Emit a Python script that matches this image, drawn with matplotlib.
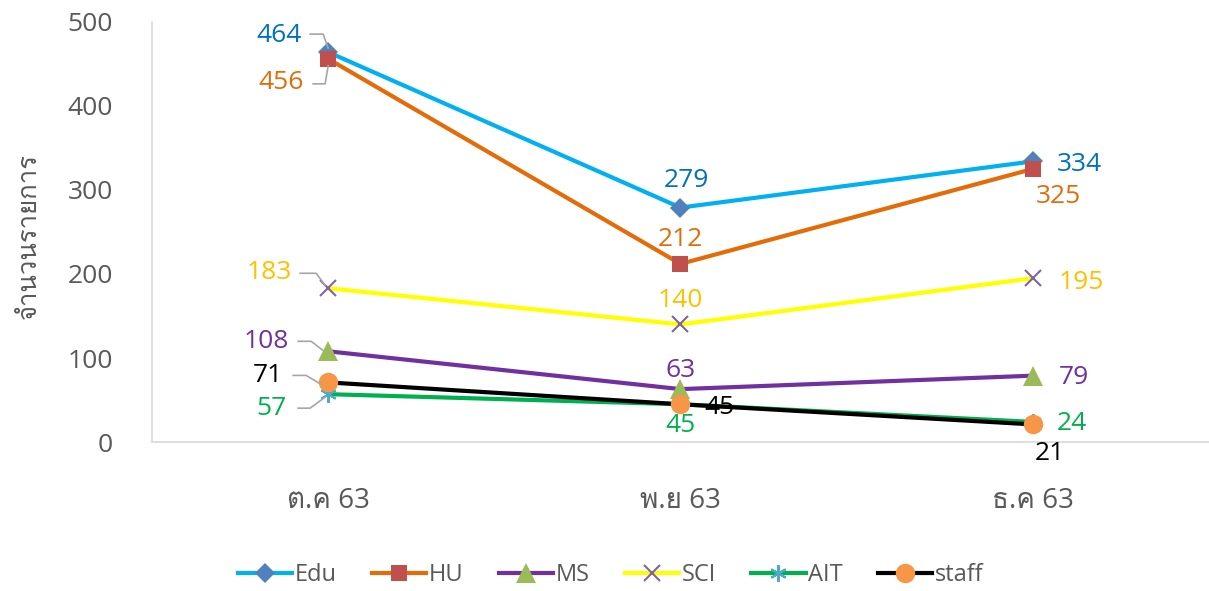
import matplotlib
matplotlib.use("Agg")
import matplotlib.pyplot as plt
from matplotlib import font_manager
from matplotlib.ft2font import FT2Font
from matplotlib.lines import Line2D

# data
months = ["ต.ค 63", "พ.ย 63", "ธ.ค 63"]
series_names = ["Edu", "HU", "MS", "SCI", "AIT", "staff"]
edu = [464, 279, 334]
hu = [456, 212, 325]
ms = [108, 63, 79]
sci = [183, 140, 195]
ait = [57, 45, 24]
staff = [71, 45, 21]
y_ticks = [0, 100, 200, 300, 400, 500]


def find_thai_font():
    """Look for any installed font that has Thai glyphs."""
    for f in font_manager.fontManager.ttflist:
        try:
            cmap = FT2Font(f.fname).get_charmap()
        except Exception:
            continue
        if 0x0E08 in cmap and 0x0E33 in cmap:
            return f.name
    return None


thai = find_thai_font()
families = ["Open Sans", "DejaVu Sans"]
if thai:
    families.insert(1, thai)
plt.rcParams["font.family"] = families

GREY = "#595959"

# line colour, marker, marker colour, label colour, marker size
styles = {
    "Edu": ("#00B0F0", "D", "#4F81BD", "#0070C0", 10),
    "HU": ("#E36C09", "s", "#C0504D", "#E36C09", 12),
    "MS": ("#7030A0", "^", "#9BBB59", "#7030A0", 14),
    "SCI": ("#FFFF00", "x", "#8064A2", "#FFC000", 12),
    "AIT": ("#00B050", (6, 2, 0), "#4BACC6", "#00B050", 12),
    "staff": ("#000000", "o", "#F79646", "#000000", 14),
}
values = {"Edu": edu, "HU": hu, "MS": ms, "SCI": sci, "AIT": ait, "staff": staff}

# label offsets in pixels (dx, dy) for each month
offsets = {
    "Edu": [(-49, 17), (6, 27), (47, -3)],
    "HU": [(-47, -24), (0, 24), (26, -28)],
    "MS": [(-62, 10), (0, 19), (41, -2)],
    "SCI": [(-59, 16), (0, 24), (48, -4)],
    "AIT": [(-57, -14), (0, -21), (39, -2)],
    "staff": [(-60, 7), (39, -3), (17, -29)],
}
# leader line shapes (pixel offsets from the point) for the first month
leaders = {
    "Edu": [(-18, 18), (-5, 18), (0, 4)],
    "HU": [(-15, -25), (-3, -25), (0, -7)],
    "MS": [(-30, 10), (-17, 10), (-4, 0)],
    "SCI": [(-28, 15), (-12, 15), (-3, 3)],
    "AIT": [(-30, -14), (-18, -14), (-3, -3)],
    "staff": [(-35, 7), (-22, 7), (-7, -2)],
}

fig = plt.figure(figsize=(12.09, 5.91), dpi=100)
ax = fig.add_axes([0.1257, 0.252, 0.8743, 0.711])
ax.set_xlim(-0.5, 2.5)
ax.set_ylim(0, 500)

x = list(range(len(months)))
for name in series_names:
    lc, mk, mc, tc, msz = styles[name]
    mew = 1.5 if mk == "x" or isinstance(mk, tuple) else 0
    ax.plot(x, values[name], color=lc, lw=3, marker=mk, markersize=msz,
            markerfacecolor=mc, markeredgecolor=mc, markeredgewidth=mew,
            label=name, solid_joinstyle="miter", zorder=3)
    for i, v in enumerate(values[name]):
        dx, dy = offsets[name][i]
        ax.annotate(str(v), (i, v), xytext=(dx, dy), textcoords="offset pixels",
                    ha="center", va="center", fontsize=19, color=tc, zorder=4)
    # grey leader line for the first month's label
    px, py = ax.transData.transform((0, values[name][0]))
    lx = [px + a for a, b in leaders[name]]
    ly = [py + b for a, b in leaders[name]]
    fig.add_artist(Line2D(lx, ly, transform=None, color="#A6A6A6", lw=1.2, zorder=2))

ax.set_yticks(y_ticks)
ax.set_xticks(x)
ax.set_xticklabels(months)
ax.tick_params(axis="y", length=0, pad=28, labelsize=19, labelcolor=GREY)
ax.tick_params(axis="x", length=0, pad=32, labelsize=20, labelcolor=GREY)
for s in ("top", "right"):
    ax.spines[s].set_visible(False)
for s in ("left", "bottom"):
    ax.spines[s].set_color("#D9D9D9")
    ax.spines[s].set_linewidth(1.2)

fig.text(0.024, 0.60, "จำนวนรายการ", rotation=90, ha="center", va="center",
         fontsize=18.5, color=GREY)

fig.legend(loc="center", bbox_to_anchor=(0.505, 0.027), ncol=6, frameon=False,
           fontsize=17, labelcolor=GREY, handlelength=2.3, handletextpad=0.1,
           columnspacing=1.5)

fig.savefig("out.png", dpi=100)
